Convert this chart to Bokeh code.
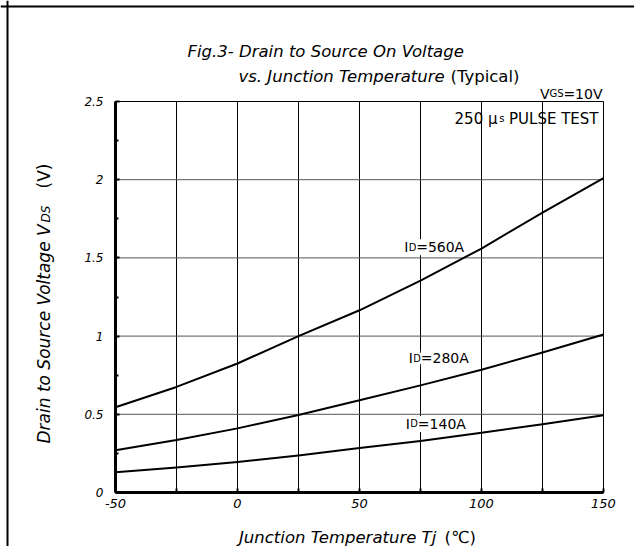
from math import pi
from bokeh.plotting import figure
from bokeh.models import Range1d, FixedTicker, Label, BoxAnnotation, Span
from bokeh.embed import file_html
from bokeh.resources import INLINE

# ---------------- data ----------------
temp_c = [-50, -25, 0, 25, 50, 75, 100, 125, 150]
vds_id560 = [0.545, 0.675, 0.825, 1.0, 1.165, 1.355, 1.56, 1.79, 2.01]
vds_id280 = [0.27, 0.335, 0.41, 0.495, 0.59, 0.685, 0.785, 0.895, 1.01]
vds_id140 = [0.13, 0.16, 0.195, 0.237, 0.284, 0.33, 0.382, 0.437, 0.494]
series_currents = ["560A", "280A", "140A"]
series_label_pos = [(68.3, 1.60), (70.2, 0.89), (69.0, 0.47)]  # (Tj, V) where each label starts

x_tick_values = [-50, -25, 0, 25, 50, 75, 100, 125, 150]
x_tick_labels = ["-50", "", "0", "", "50", "", "100", "", "150"]
y_tick_values = [0, 0.5, 1, 1.5, 2, 2.5]
y_tick_labels = ["0", "0.5", "1", "1.5", "2", "2.5"]
y_minor_values = [0.25, 0.75, 1.25, 1.75, 2.25]
X0, X1, Y0, Y1 = -50, 150, 0, 2.5

# ---------------- layout (canvas pixels) ----------------
W, H = 634, 546
FR_L, FR_R, FR_T, FR_B = 115, 603, 101, 492   # plot-area edges on the canvas
SX = (FR_R - FR_L) / (X1 - X0)
SY = (FR_B - FR_T) / (Y1 - Y0)


def dx(px):
    return X0 + (px - FR_L) / SX


def dy(py):
    return Y0 + (FR_B - py) / SY


p = figure(width=W, height=H, output_backend="svg", toolbar_location=None,
           x_range=Range1d(dx(0), dx(W)), y_range=Range1d(dy(H), dy(0)),
           min_border=0, min_border_left=0, min_border_right=0,
           min_border_top=0, min_border_bottom=0)
p.background_fill_color = "white"
p.border_fill_color = "white"
p.outline_line_color = None
p.xgrid.visible = False
p.ygrid.visible = False

# axes drawn at the plot-area edges
p.xaxis.fixed_location = Y0
p.yaxis.fixed_location = X0
p.xaxis.bounds = (X0, X1)
p.yaxis.bounds = (Y0, Y1)
p.xaxis.ticker = FixedTicker(ticks=x_tick_values)
p.xaxis.major_label_overrides = {v: t for v, t in zip(x_tick_values, x_tick_labels)}
p.yaxis.ticker = FixedTicker(ticks=y_tick_values, minor_ticks=y_minor_values)
p.yaxis.major_label_overrides = {v: t for v, t in zip(y_tick_values, y_tick_labels)}
for ax in (p.xaxis, p.yaxis):
    ax.axis_line_width = 3
    ax.axis_line_color = "black"
    ax.major_tick_in = 4
    ax.major_tick_out = 0
    ax.major_tick_line_width = 2
    ax.major_tick_line_color = "black"
    ax.minor_tick_in = 3
    ax.minor_tick_out = 0
    ax.minor_tick_line_width = 2
    ax.minor_tick_line_color = "black"
    ax.major_label_text_font = "DejaVu Sans"
    ax.major_label_text_font_style = "italic"
    ax.major_label_text_color = "black"
p.xaxis.minor_tick_line_color = None
p.xaxis.major_label_text_font_size = "13px"
p.yaxis.major_label_text_font_size = "12px"
p.xaxis.major_label_standoff = 6
p.yaxis.major_label_standoff = 12

# grid lines at the tick values
vx = [v for v in x_tick_values if X0 < v < X1]
hy = [v for v in y_tick_values if Y0 < v < Y1]
p.segment(x0=vx, y0=[Y0] * len(vx), x1=vx, y1=[Y1] * len(vx),
          line_color="black", line_width=1)
p.segment(x0=[X0] * len(hy), y0=hy, x1=[X1] * len(hy), y1=hy,
          line_color="#555555", line_width=1)

# plot-area box (thin top/right edges)
p.add_layout(BoxAnnotation(left=X0, right=X1, bottom=Y0, top=Y1,
                           fill_color=None, fill_alpha=0,
                           line_color="black", line_alpha=1.0, line_width=1))

# curves
for vals in (vds_id560, vds_id280, vds_id140):
    p.line(temp_c, vals, line_color="black", line_width=2, line_join="round")


def lab(text, px, py, size, italic=False, align="left", angle=0.0,
        font="DejaVu Sans", bg=None):
    lbl = Label(x=dx(px), y=dy(py), text=text, text_font=font,
                text_font_size=f"{size}px",
                text_font_style="italic" if italic else "normal",
                text_align=align, text_baseline="alphabetic", angle=angle,
                text_color="black")
    if bg:
        lbl.background_fill_color = bg
    p.add_layout(lbl)


# series labels  I_D = ...
for cur, (tx, ty) in zip(series_currents, series_label_pos):
    base_px = FR_L + (tx - X0) * SX
    base_py = FR_B - (ty - Y0) * SY + 5
    lab("I", base_px, base_py, 14, bg="white")
    lab("D", base_px + 4.5, base_py, 10, bg="white")
    lab("=" + cur, base_px + 12.0, base_py, 14, bg="white")

# title
lab("Fig.3-  Drain to Source On Voltage", 187, 51, 16.5, italic=True)
lab("vs. Junction Temperature", 238, 75.5, 16.5, italic=True)
lab("(Typical)", 450, 75.5, 16.5)

# test conditions
lab("=10V", 602, 93, 14, align="right")
lab("GS", 563, 93, 10, align="right")
lab("V", 549, 93, 14, align="right")
lab("PULSE TEST", 598, 118, 15, align="right")
lab("s", 504, 118, 10, align="right")
lab("250 μ", 497, 118, 15, align="right")

# axis titles
lab("Junction Temperature Tj", 238.5, 536.5, 16.5, italic=True)
lab("(℃)", 444, 536.5, 16.5)
lab("Drain to Source Voltage V", 43, 443, 17, italic=True, angle=pi / 2)
lab("DS", 45, 222, 12, italic=True, angle=pi / 2)
lab("(V)", 43, 188, 17, angle=pi / 2)

# datasheet box rules (left and top)
p.add_layout(Span(location=dx(7), dimension="height", line_color="black", line_width=2))
p.add_layout(Span(location=dy(6), dimension="width", line_color="black", line_width=2))

open("out.html", "w").write(file_html(p, INLINE))
